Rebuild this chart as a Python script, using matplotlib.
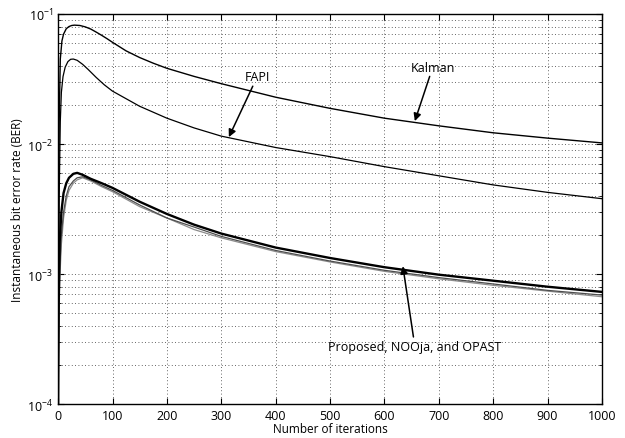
import numpy as np
import matplotlib
matplotlib.use("Agg")
import matplotlib.pyplot as plt

plt.rcParams['font.family'] = ['Open Sans', 'DejaVu Sans']
plt.rcParams['mathtext.fontset'] = 'dejavusans'

# Kalman curve
x_kalman = [0, 1, 2, 4, 7, 10, 15, 20, 25, 30, 40, 50, 60, 70, 80, 90, 100, 125,
            150, 175, 200, 250, 300, 400, 500, 600, 700, 800, 900, 1000]
ber_kalman = [1.0e-4, 0.003, 0.015, 0.045, 0.062, 0.070, 0.077, 0.080, 0.0815, 0.082,
              0.0815, 0.0795, 0.0765, 0.0725, 0.0685, 0.0645, 0.0605, 0.052, 0.0462,
              0.0418, 0.0382, 0.0331, 0.0291, 0.0229, 0.0188, 0.0158, 0.0138, 0.0122,
              0.0111, 0.0102]

# FAPI curve
x_fapi = [0, 2, 4, 6, 9, 13, 18, 23, 28, 35, 45, 55, 70, 85, 100, 150, 200, 250,
          300, 400, 500, 600, 700, 800, 900, 1000]
ber_fapi = [1.0e-4, 0.004, 0.015, 0.025, 0.033, 0.039, 0.043, 0.0448, 0.045, 0.044,
            0.041, 0.0375, 0.0325, 0.0285, 0.0255, 0.0195, 0.0158, 0.0133, 0.0115,
            0.0094, 0.0080, 0.0067, 0.0057, 0.00485, 0.00425, 0.0038]

# Proposed / NOOja / OPAST
x_low = [0, 1, 3, 6, 10, 15, 20, 28, 35, 45, 60, 80, 100, 150, 200, 250, 300,
         400, 500, 600, 700, 800, 900, 1000]
ber_proposed = [1.0e-4, 6e-4, 0.0018, 0.0030, 0.0042, 0.0050, 0.0055, 0.0059, 0.0060,
                0.0058, 0.0054, 0.0050, 0.0046, 0.0036, 0.0029, 0.0024, 0.00205,
                0.00160, 0.00133, 0.00113, 0.00099, 0.00089, 0.00080, 0.00073]
ber_nooja = [1.0e-4, 4e-4, 0.0011, 0.0020, 0.0030, 0.0040, 0.0047, 0.0052, 0.0055,
             0.0056, 0.0053, 0.0048, 0.0044, 0.0034, 0.0027, 0.0023, 0.00195,
             0.00152, 0.00126, 0.00107, 0.00094, 0.00084, 0.00075, 0.00069]
ber_opast = [1.0e-4, 3e-4, 0.0009, 0.0017, 0.0027, 0.0037, 0.0044, 0.0050, 0.0053,
             0.0055, 0.0052, 0.0047, 0.0043, 0.0033, 0.0027, 0.0022, 0.00190,
             0.00149, 0.00124, 0.00105, 0.00092, 0.00082, 0.00074, 0.00067]

fig = plt.figure(figsize=(6.25, 4.39), dpi=100)
ax = fig.add_axes([0.093, 0.077, 0.870, 0.889])

ax.semilogy(x_kalman, ber_kalman, color='k', lw=1.0)
ax.semilogy(x_fapi, ber_fapi, color='k', lw=0.9)
ax.semilogy(x_low, ber_opast, color='0.55', lw=0.9)
ax.semilogy(x_low, ber_nooja, color='0.3', lw=0.9)
ax.semilogy(x_low, ber_proposed, color='k', lw=1.7)

ax.set_xlim(0, 1000)
ax.set_ylim(1e-4, 1e-1)
ax.set_xticks(np.arange(0, 1001, 100))
grid_style = dict(linestyle=(0, (1, 3)), color='0.2', lw=0.6)
ax.grid(True, which='major', axis='both', **grid_style)
ax.grid(True, which='minor', axis='y', **grid_style)
ax.tick_params(which='both', direction='in', top=True, right=True, labelsize=9)
ax.tick_params(which='major', length=4)
ax.tick_params(which='minor', length=2)
for s in ax.spines.values():
    s.set_linewidth(1.0)

ax.set_xlabel('Number of iterations', fontsize=8.5, labelpad=0)
ax.set_ylabel('Instantaneous bit error rate (BER)', fontsize=8.5, labelpad=2)

arrow = dict(arrowstyle='-|>', color='k', lw=1.1, mutation_scale=11, shrinkA=0, shrinkB=0)
ax.annotate('Kalman', xy=(656, 0.0150), xytext=(689, 0.039), fontsize=9,
            ha='center', va='center', arrowprops=arrow)
ax.annotate('FAPI', xy=(314, 0.0113), xytext=(366, 0.0328), fontsize=9,
            ha='center', va='center', arrowprops=arrow)
ax.annotate('Proposed, NOOja, and OPAST', xy=(634, 0.00115), xytext=(656, 0.000279),
            fontsize=9, ha='center', va='center', arrowprops=arrow)

fig.savefig('out.png', dpi=100)
